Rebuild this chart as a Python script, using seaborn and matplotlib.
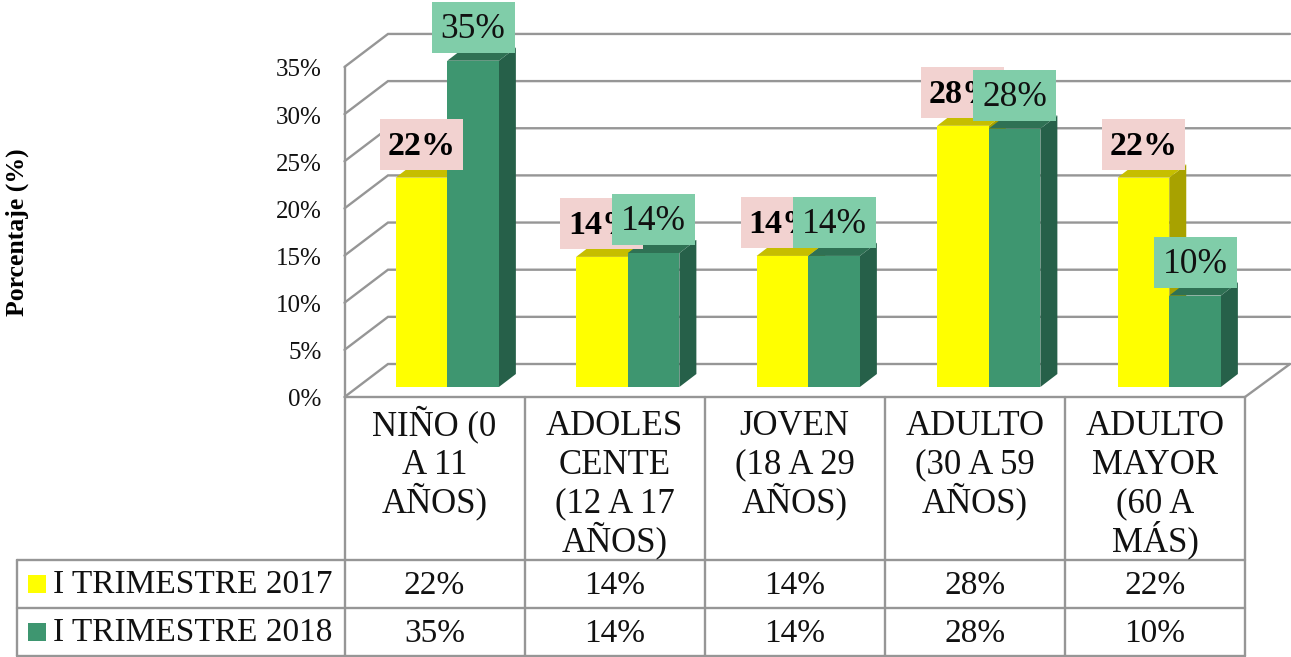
import matplotlib
matplotlib.use("Agg")
import matplotlib.pyplot as plt
import pandas as pd
import seaborn as sns
from matplotlib.patches import Polygon, Rectangle
from matplotlib.transforms import Affine2D, IdentityTransform

# --- Data ---
grupos = ["NIÑO (0\nA 11\nAÑOS)", "ADOLES\nCENTE\n(12 A 17\nAÑOS)", "JOVEN\n(18 A 29\nAÑOS)",
          "ADULTO\n(30 A 59\nAÑOS)", "ADULTO\nMAYOR\n(60 A\nMÁS)"]
periodos = ["I TRIMESTRE 2017", "I TRIMESTRE 2018"]
valores_2017 = [22.2, 13.8, 13.9, 27.7, 22.2]
valores_2018 = [34.6, 14.2, 13.9, 27.4, 9.7]
etiquetas_2017 = ["22%", "14%", "14%", "28%", "22%"]
etiquetas_2018 = ["35%", "14%", "14%", "28%", "10%"]
ticks = [0, 5, 10, 15, 20, 25, 30, 35]

# --- Style ---
W, H = 1291, 657
FRONT_COL = ["#FFFF00", "#3E9670"]
TOP_COL = ["#C6BE00", "#2F7154"]
SIDE_COL = ["#A8A200", "#266049"]
BOX_COL = ["#F2D2D0", "#80CDA9"]
GRID = "#969696"
LW = 1.7
PX_PCT = 9.43   # pixels per percentage point
FLOOR_Y = 397   # front edge of the floor
CELL_X = [344.5, 524.5, 704.5, 885, 1065, 1245]
ROW_Y = [560, 608, 656]

sns.set_theme(style="white")
plt.rcParams["font.family"] = ["Liberation Serif", "DejaVu Sans"]

df = pd.DataFrame({
    "grupo": grupos * 2,
    "pct": valores_2017 + valores_2018,
    "periodo": [periodos[0]] * 5 + [periodos[1]] * 5,
})

fig = plt.figure(figsize=(W / 100, H / 100), dpi=100, facecolor="white")


def px_axes(zorder):
    a = fig.add_axes([0, 0, 1, 1], zorder=zorder)
    a.set_xlim(0, W)
    a.set_ylim(H, 0)
    a.axis("off")
    return a


bg = px_axes(0)
fg = px_axes(3)

# walls and floor
for t in ticks:
    y = FLOOR_Y - t * PX_PCT
    bg.plot([344.5, 388, 1290], [y, y - 33, y - 33], color=GRID, lw=LW, solid_joinstyle="miter")
bg.plot([344.5, 344.5], [FLOOR_Y - 35 * PX_PCT, FLOOR_Y], color=GRID, lw=LW)
bg.plot([1245, 1290], [FLOOR_Y, FLOOR_Y - 33], color=GRID, lw=LW)

# bars sit on a plane set back from the front of the floor
ax = fig.add_axes([357 / W, (H - 387) / H, 902.5 / W, 35 * PX_PCT / H], zorder=1)
ax.patch.set_alpha(0)
sns.barplot(data=df, x="grupo", y="pct", hue="periodo", hue_order=periodos, palette=FRONT_COL,
            width=0.572, gap=0, saturation=1, errorbar=None, legend=False, linewidth=0, ax=ax)
ax.set_xlim(-0.5, 4.5)
ax.set_ylim(0, 35)
ax.set_xlabel("")
ax.set_ylabel("")
ax.set_xticks([])
ax.set_yticks(ticks, [f"{t}%" for t in ticks])
ax.tick_params(axis="y", length=0, pad=25.5, labelsize=18, colors="#111111")
bajar = Affine2D().translate(0, -11)
for lab in ax.get_yticklabels():
    lab.set_transform(lab.get_transform() + bajar)
sns.despine(ax=ax, left=True, bottom=True)

# 3D sides and tops, value boxes (later boxes cover earlier ones and their text)
DX, DY = 17, 13
etiquetas = [etiquetas_2017, etiquetas_2018]
capa = 5
for s, cont in enumerate(ax.containers):
    for i, bar in enumerate(cont):
        x0, y0 = ax.transData.transform((bar.get_x(), 0))
        x1, y1 = ax.transData.transform((bar.get_x() + bar.get_width(), bar.get_height()))
        ax.add_patch(Polygon([(x1, y0), (x1 + DX, y0 + DY), (x1 + DX, y1 + DY), (x1, y1)],
                             transform=IdentityTransform(), color=SIDE_COL[s], lw=0, zorder=0.5, clip_on=False))
        ax.add_patch(Polygon([(x0, y1), (x0 + DX, y1 + DY), (x1 + DX, y1 + DY), (x1, y1)],
                             transform=IdentityTransform(), color=TOP_COL[s], lw=0, zorder=0.5, clip_on=False))
        cx, cy = (x0 + x1) / 2, H - y1 - 33.5
        fg.add_patch(Rectangle((cx - 41.5, cy - 25.5), 83, 51, color=BOX_COL[s], lw=0, zorder=capa))
        fg.text(cx, cy + 2, etiquetas[s][i], ha="center", va="center", fontsize=24.5 if s == 0 else 25.5,
                fontweight="bold" if s == 0 else "normal", color="black" if s == 0 else "#111111",
                zorder=capa + 0.5)
        capa += 1

# data table
fg.plot([CELL_X[0], CELL_X[-1]], [FLOOR_Y, FLOOR_Y], color=GRID, lw=LW)
for y in ROW_Y:
    fg.plot([17, CELL_X[-1]], [y, y], color=GRID, lw=LW)
fg.plot([17, 17], [ROW_Y[0], ROW_Y[-1]], color=GRID, lw=LW)
for x in CELL_X:
    fg.plot([x, x], [FLOOR_Y, ROW_Y[-1]], color=GRID, lw=LW)

for i, g in enumerate(grupos):
    cx = (CELL_X[i] + CELL_X[i + 1]) / 2
    for n, linea in enumerate(g.split("\n")):
        fg.text(cx, 435 + n * 38.7, linea, ha="center", va="baseline", fontsize=25, color="#111111")
    fg.text(cx, 586, etiquetas_2017[i], ha="center", va="center", fontsize=24, color="#111111")
    fg.text(cx, 634, etiquetas_2018[i], ha="center", va="center", fontsize=24, color="#111111")

for y, col, nombre in zip([584, 632], FRONT_COL, periodos):
    fg.add_patch(Rectangle((28, y - 9), 18, 18, color=col, lw=0))
    fg.text(53, y + 1, nombre, ha="left", va="center", fontsize=24, color="#111111")

fg.text(17, 232, "Porcentaje (%)", rotation=90, ha="center", va="center",
        fontsize=18.5, fontweight="bold", color="black")

fig.savefig("out.png", dpi=100)
